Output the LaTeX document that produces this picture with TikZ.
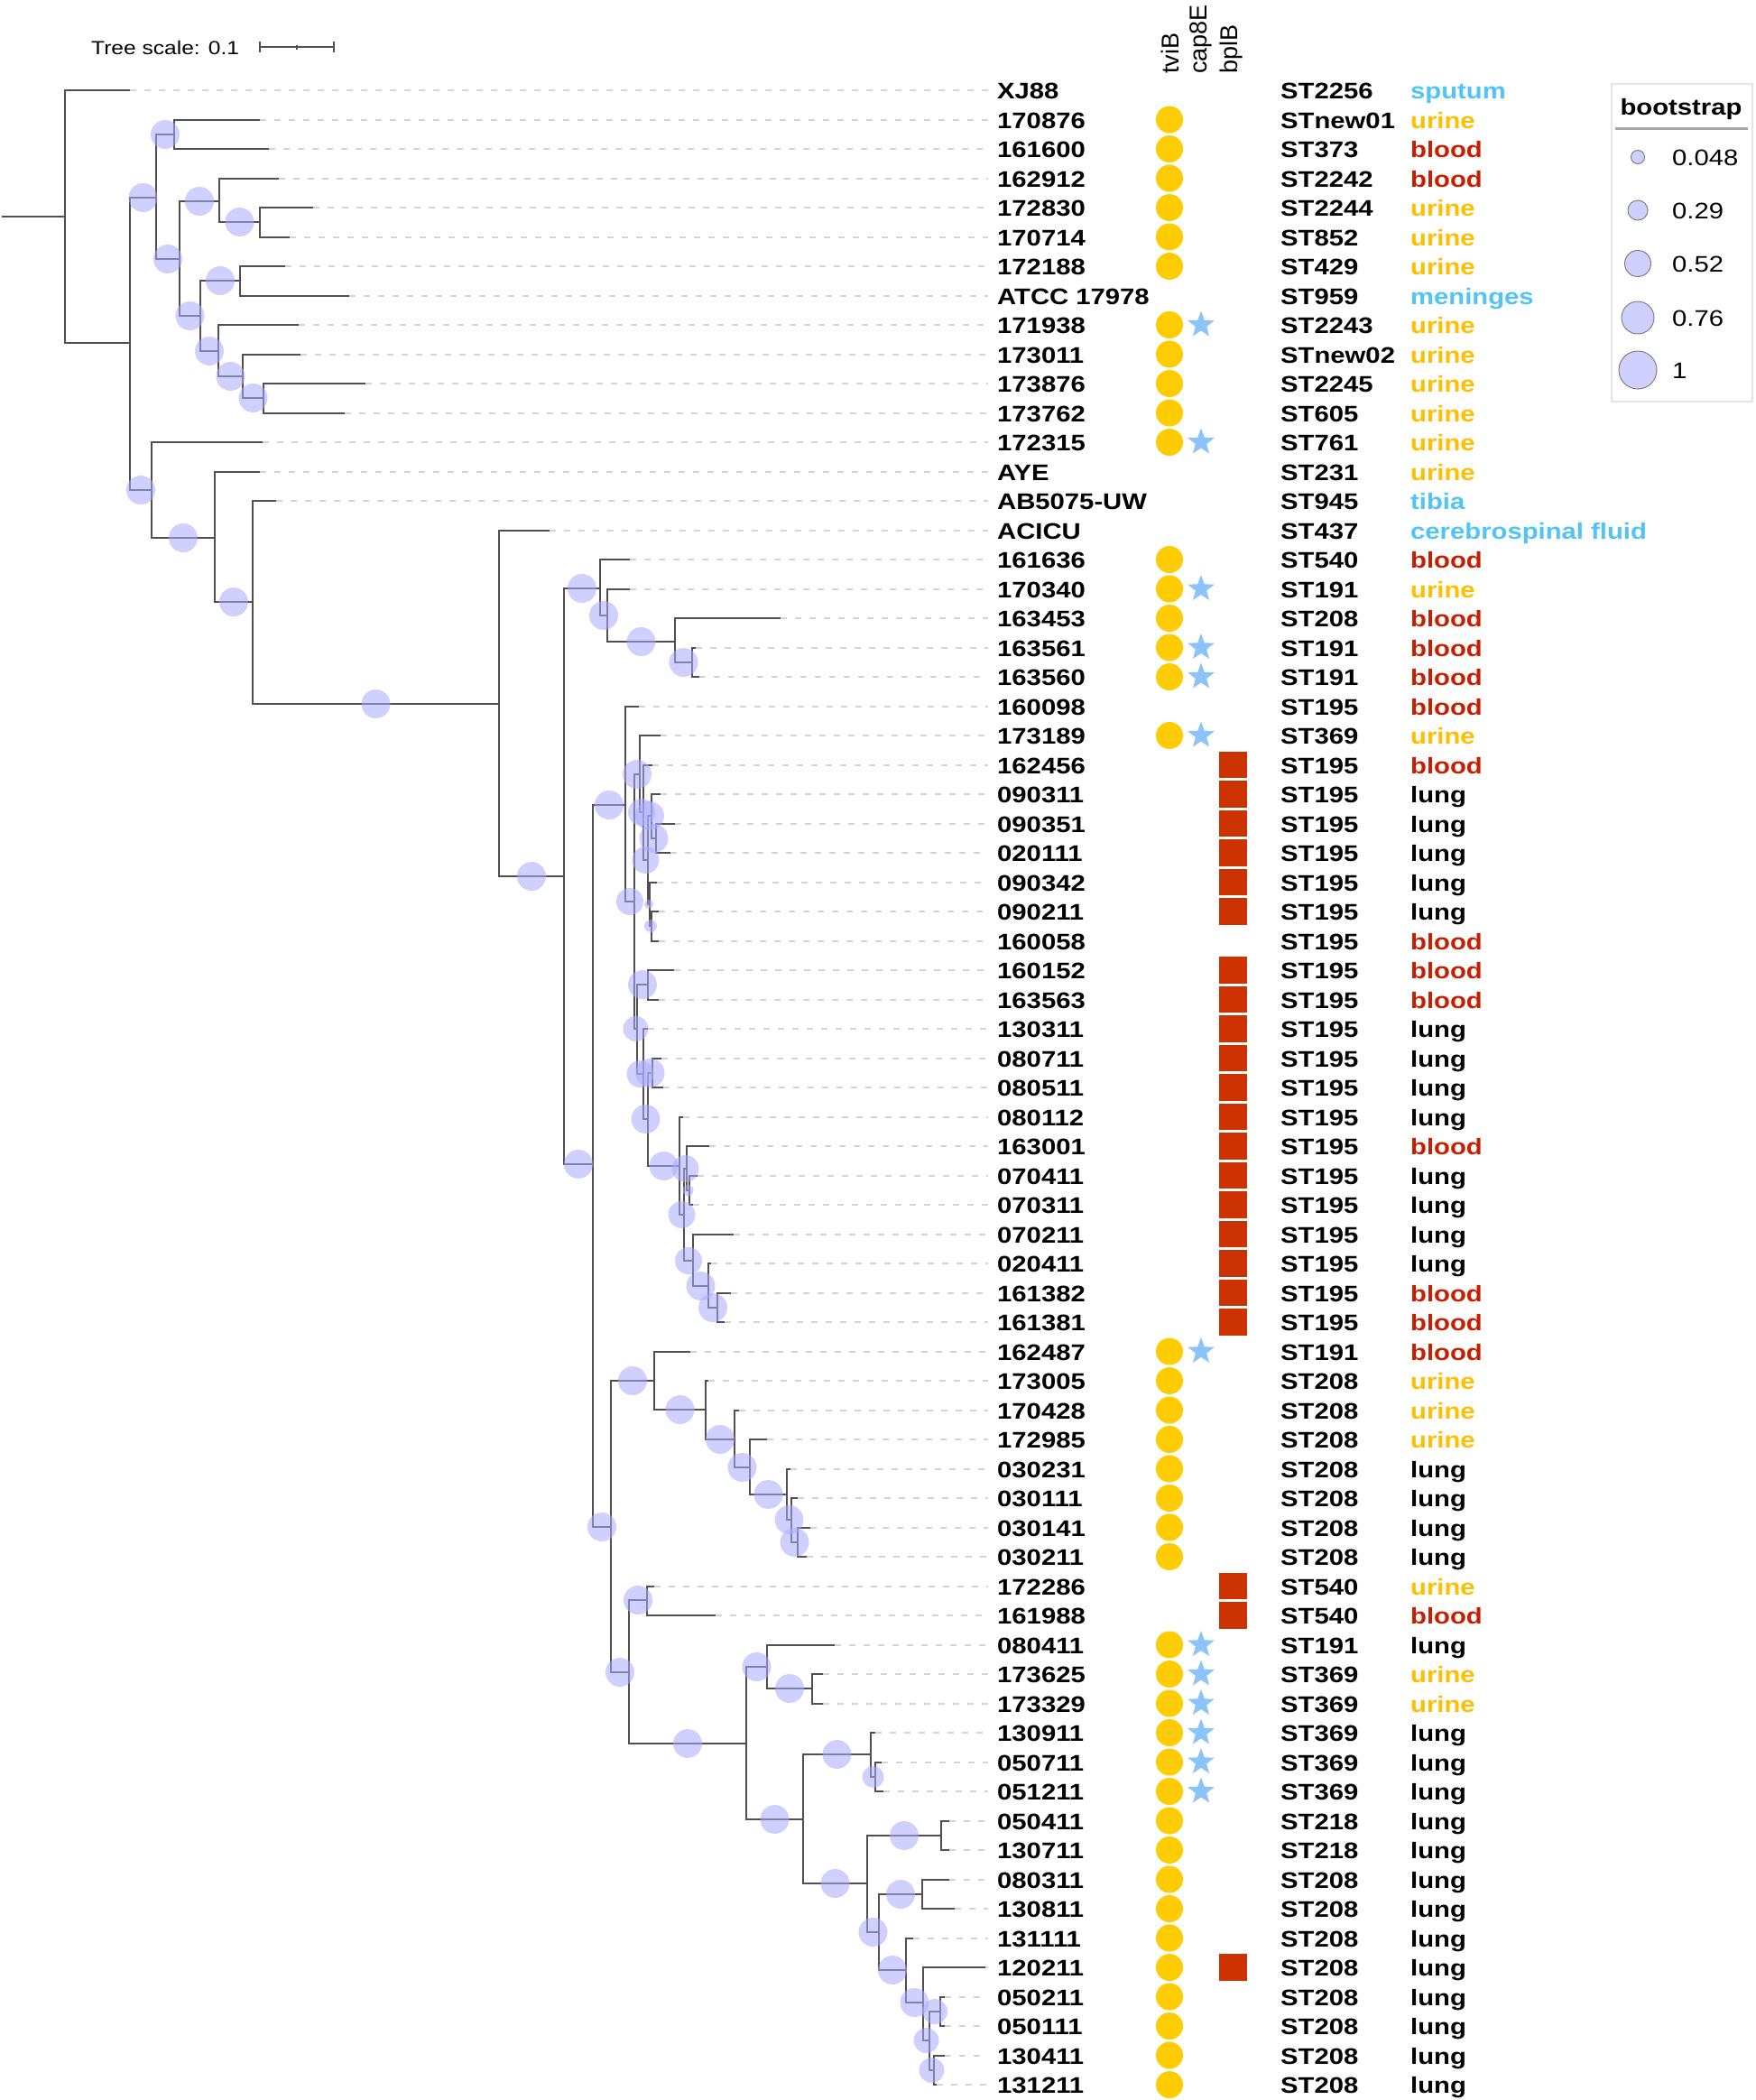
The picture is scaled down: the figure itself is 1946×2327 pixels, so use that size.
\documentclass[tikz,border=0pt]{standalone}
\usepackage{fontspec}
\setmainfont{Liberation Sans}
\newfontfamily\wfont{Liberation Sans}[FakeStretch=1.17]
\usetikzlibrary{shapes.geometric,calc}
\definecolor{branchc}{RGB}{80,80,80}
\definecolor{leaderc}{RGB}{212,212,212}
\definecolor{bubc}{RGB}{170,170,255}
\definecolor{legfill}{RGB}{208,208,255}
\definecolor{yel}{RGB}{255,204,0}
\definecolor{starc}{RGB}{140,196,250}
\definecolor{sqc}{RGB}{204,51,0}
\definecolor{cblue}{RGB}{80,195,247}
\definecolor{curine}{RGB}{255,190,0}
\definecolor{cblood}{RGB}{200,30,0}
\tikzset{
 branch/.style={draw=branchc, line width=2pt},
 leader/.style={draw=leaderc, line width=2pt, dash pattern=on 7pt off 9pt},
 bub/.style={fill=bubc, fill opacity=0.55},
 lab/.style={anchor=base west, inner sep=0pt, font=\wfont\fontsize{25}{30}\selectfont\bfseries},
 legtxt/.style={anchor=base west, inner sep=0pt, font=\wfont\fontsize{25}{30}\selectfont},
 hdr/.style={rotate=90, anchor=west, inner sep=0pt, font=\fontsize{27}{30}\selectfont},
 tvib/.style={circle, fill=yel, minimum size=30pt, inner sep=0pt},
 starsym/.style={star, star points=5, star point ratio=2.4, fill=starc, minimum size=31pt, inner sep=0pt},
 sqsym/.style={rectangle, fill=sqc, minimum width=31pt, minimum height=29.5pt, inner sep=0pt},
 legc/.style={circle, fill=legfill, draw=gray, line width=1pt, inner sep=0pt},
}
\begin{document}
\begin{tikzpicture}[x=1pt,y=-1pt]
\useasboundingbox (0,0) rectangle (1946,2327);
\fill[white] (0,0) rectangle (1946,2327);

% ---- internal nodes
\foreach \n/\x/\y in {R0/72/240, A/144/380, B/173/219, C/193/149, E/199/287, F/243/223, H/288/246,
 G/222/350, I/266/311, J/242/389, K/269/417, L/292/441, D/168/543, M/238/596, N/280/667,
 P/553/780, Q/625/971, R/665/652, S/673/682, T/748/711, U/767/734, X/657/1290, V/693/892,
 W/703/999, Y/709/858, AA/713/900, AB/718/953, AC/722/904, AE/727/929, AD/720/1002, AF/722/1026,
 Z/706/1140, AG/718/1091, AI/713/1190, AJ/718/1240, AK/723/1189, AL/753/1292, AM/758/1346,
 AN/761/1295, AO/764/1319, AP/768/1397, AQ/785/1425, AR/795/1449, AH/677/1692, AS/725/1530,
 AT/782/1562, AU/814/1595, AV/831/1626, AW/872/1656, AX/877/1684, AY/884/1709, AZ/697/1853,
 BA/717/1773, BB/827/1932, BC/850/1847, BD/900/1871, BE/890/2016, BF/965/1944, BG/970/1969,
 BH/961/2087, BI/1043/2034, BJ/974/2141, BK/1022/2099, BL/1004/2183, BM/1023/2219,
 BN/1030/2261, BO/1042/2229, BP/1035/2294}
 \coordinate (\n) at (\x,\y);

% ---- tips
\foreach \i/\tx in {0/144,1/288,2/298,3/309,4/347,5/321,6/316,7/387,8/331,9/333,10/405,11/382,
 12/291,13/288,14/306,15/609,16/698,17/698,18/865,19/771,20/775,21/708,22/732,23/723,24/732,
 25/748,26/743,27/728,28/730,29/730,30/747,31/730,32/718,33/733,34/735,35/757,36/786,37/773,
 38/768,39/813,40/788,41/810,42/803,43/765,44/785,45/819,46/850,47/876,48/884,49/898,50/894,
 51/725,52/793,53/925,54/912,55/912,56/970,57/977,58/979,59/1052,60/1052,61/1052,62/1058,
 63/1012,64/1092,65/1047,66/1047,67/1047,68/1038}
 \coordinate (t\i) at (\tx,{100+32.5*\i});

% ---- labels, ST, source
\foreach \i/\name/\st/\src/\col in {
 0/XJ88/ST2256/sputum/cblue, 1/170876/STnew01/urine/curine, 2/161600/ST373/blood/cblood,
 3/162912/ST2242/blood/cblood, 4/172830/ST2244/urine/curine, 5/170714/ST852/urine/curine,
 6/172188/ST429/urine/curine, 7/ATCC 17978/ST959/meninges/cblue, 8/171938/ST2243/urine/curine,
 9/173011/STnew02/urine/curine, 10/173876/ST2245/urine/curine, 11/173762/ST605/urine/curine,
 12/172315/ST761/urine/curine, 13/AYE/ST231/urine/curine, 14/AB5075-UW/ST945/tibia/cblue,
 15/ACICU/ST437/cerebrospinal fluid/cblue, 16/161636/ST540/blood/cblood, 17/170340/ST191/urine/curine,
 18/163453/ST208/blood/cblood, 19/163561/ST191/blood/cblood, 20/163560/ST191/blood/cblood,
 21/160098/ST195/blood/cblood, 22/173189/ST369/urine/curine, 23/162456/ST195/blood/cblood,
 24/090311/ST195/lung/black, 25/090351/ST195/lung/black, 26/020111/ST195/lung/black,
 27/090342/ST195/lung/black, 28/090211/ST195/lung/black, 29/160058/ST195/blood/cblood,
 30/160152/ST195/blood/cblood, 31/163563/ST195/blood/cblood, 32/130311/ST195/lung/black,
 33/080711/ST195/lung/black, 34/080511/ST195/lung/black, 35/080112/ST195/lung/black,
 36/163001/ST195/blood/cblood, 37/070411/ST195/lung/black, 38/070311/ST195/lung/black,
 39/070211/ST195/lung/black, 40/020411/ST195/lung/black, 41/161382/ST195/blood/cblood,
 42/161381/ST195/blood/cblood, 43/162487/ST191/blood/cblood, 44/173005/ST208/urine/curine,
 45/170428/ST208/urine/curine, 46/172985/ST208/urine/curine, 47/030231/ST208/lung/black,
 48/030111/ST208/lung/black, 49/030141/ST208/lung/black, 50/030211/ST208/lung/black,
 51/172286/ST540/urine/curine, 52/161988/ST540/blood/cblood, 53/080411/ST191/lung/black,
 54/173625/ST369/urine/curine, 55/173329/ST369/urine/curine, 56/130911/ST369/lung/black,
 57/050711/ST369/lung/black, 58/051211/ST369/lung/black, 59/050411/ST218/lung/black,
 60/130711/ST218/lung/black, 61/080311/ST208/lung/black, 62/130811/ST208/lung/black,
 63/131111/ST208/lung/black, 64/120211/ST208/lung/black, 65/050211/ST208/lung/black,
 66/050111/ST208/lung/black, 67/130411/ST208/lung/black, 68/131211/ST208/lung/black}
{
 \pgfmathsetmacro{\yy}{100+32.5*\i}
 \node[lab] (lab\i) at (1105,{\yy+9.5}) {\name};
 \node[lab] (stn\i) at (1419,{\yy+9.5}) {\st};
 \node[lab, text=\col] (src\i) at (1563,{\yy+9.5}) {\src};
 \draw[leader, shorten >=10pt] (t\i) -- (t\i -| lab\i.west);
}

% ---- branches
\foreach \p/\c in {R0/t0, R0/A, A/B, A/D, B/C, B/E, C/t1, C/t2, E/F, E/G, F/t3, F/H, H/t4, H/t5,
 G/I, G/J, I/t6, I/t7, J/t8, J/K, K/t9, K/L, L/t10, L/t11, D/t12, D/M, M/t13, M/N, N/t14, N/P,
 P/t15, P/Q, Q/R, Q/X, R/t16, R/S, S/t17, S/T, T/t18, T/U, U/t19, U/t20, X/V, X/AH, V/t21, V/W,
 W/Y, W/Z, Y/t22, Y/AA, AA/t23, AA/AB, AB/AC, AB/AD, AC/t24, AC/AE, AE/t25, AE/t26, AD/t27, AD/AF,
 AF/t28, AF/t29, Z/AG, Z/AI, AG/t30, AG/t31, AI/t32, AI/AJ, AJ/AK, AJ/AL, AK/t33, AK/t34, AL/t35,
 AL/AM, AM/AN, AM/AP, AN/t36, AN/AO, AO/t37, AO/t38, AP/t39, AP/AQ, AQ/t40, AQ/AR, AR/t41, AR/t42,
 AH/AS, AH/AZ, AS/t43, AS/AT, AT/t44, AT/AU, AU/t45, AU/AV, AV/t46, AV/AW, AW/t47, AW/AX, AX/t48,
 AX/AY, AY/t49, AY/t50, AZ/BA, AZ/BB, BA/t51, BA/t52, BB/BC, BB/BE, BC/t53, BC/BD, BD/t54, BD/t55,
 BE/BF, BE/BH, BF/t56, BF/BG, BG/t57, BG/t58, BH/BI, BH/BJ, BI/t59, BI/t60, BJ/BK, BJ/BL, BK/t61,
 BK/t62, BL/t63, BL/BM, BM/t64, BM/BN, BN/BO, BN/BP, BO/t65, BO/t66, BP/t67, BP/t68}
 \draw[branch] (\p) |- (\c);
\coordinate (stub) at (2,240);
\draw[branch] (stub) -- (R0);

% ---- bootstrap bubbles
\foreach \p/\c/\r in {A/B/16, B/C/16, B/E/16, E/F/16, F/H/16, E/G/16, G/I/16, G/J/16, J/K/16,
 K/L/16, A/D/16, D/M/16, M/N/16, N/P/16, P/Q/16, Q/R/16, R/S/16, S/T/16, T/U/16, Q/X/16, X/V/16,
 V/W/15, W/Y/16, Y/AA/15, AA/AB/15, AB/AC/16, AC/AE/16, AB/AD/5, AD/AF/7, W/Z/14, Z/AG/16,
 Z/AI/15, AI/AJ/16, AJ/AK/16, AJ/AL/16, AL/AM/15, AM/AN/15, AN/AO/6, AM/AP/15, AP/AQ/16,
 AQ/AR/16, X/AH/16, AH/AS/16, AS/AT/16, AT/AU/16, AU/AV/16, AV/AW/16, AW/AX/16, AX/AY/16,
 AH/AZ/16, AZ/BA/16, AZ/BB/16, BB/BC/16, BC/BD/16, BB/BE/16, BE/BF/16, BF/BG/12, BE/BH/16,
 BH/BI/16, BH/BJ/16, BJ/BK/16, BJ/BL/16, BL/BM/16, BM/BN/14, BN/BO/14, BN/BP/14}
 \fill[bub] ($(\p |- \c)!0.5!(\c)$) circle[radius=\r pt];

% ---- tviB circles
\foreach \i in {1,2,3,4,5,6,8,9,10,11,12,16,17,18,19,20,22,43,44,45,46,47,48,49,50,
 53,54,55,56,57,58,59,60,61,62,63,64,65,66,67,68}
 \node[tvib] (cv\i) at (1296,{100+32.5*\i}) {};
% ---- cap8E stars
\foreach \i in {8,12,17,19,20,22,43,53,54,55,56,57,58}
 \node[starsym] (sr\i) at (1331,{100+32.5*\i}) {};
% ---- bplB squares
\foreach \i in {23,24,25,26,27,28,30,31,32,33,34,35,36,37,38,39,40,41,42,51,52,64}
 \node[sqsym] (sq\i) at (1366,{100+32.5*\i}) {};

% ---- column headers
\node[hdr] (h1) at (1297,82) {tviB};
\node[hdr] (h2) at (1331,82) {cap8E};
\node[hdr] (h3) at (1365,82) {bplB};

% ---- tree scale
\node[anchor=base west, inner sep=0pt, font=\wfont\fontsize{21}{25}\selectfont] (ts) at (101,60) {Tree scale: 0.1};
\coordinate (sb1) at (288,52);
\coordinate (sb2) at (370,52);
\coordinate (sbm) at (329,52);
\draw[branch] (sb1) -- (sb2);
\draw[branch] ($(sb1)+(0,-6)$) -- ($(sb1)+(0,6)$);
\draw[branch] ($(sb2)+(0,-6)$) -- ($(sb2)+(0,6)$);
\draw[branch, line width=1.5pt] ($(sbm)+(0,-2)$) -- ($(sbm)+(0,3)$);

% ---- legend
\node[draw=gray!20, line width=1.5pt, fill=white, minimum width=156pt, minimum height=352pt, inner sep=0pt] (leg) at (1864,269) {};
\node[anchor=base, inner sep=0pt, font=\wfont\fontsize{25}{30}\selectfont\bfseries] (bt) at (1863,127) {bootstrap};
\coordinate (ul1) at (1790,142);
\coordinate (ul2) at (1937,142);
\draw[gray!70, line width=3pt] (ul1) -- (ul2);
\foreach \k/\v/\yy/\r in {1/0.048/174/7.5, 2/0.29/233/11, 3/0.52/292/14.5, 4/0.76/352/18, 5/1/410/21}{
 \node[legc, minimum size=2*\r pt] (lc\k) at (1815,\yy) {};
 \node[legtxt] (lt\k) at (1853,{\yy+9}) {\v};
}
\end{tikzpicture}
\end{document}
